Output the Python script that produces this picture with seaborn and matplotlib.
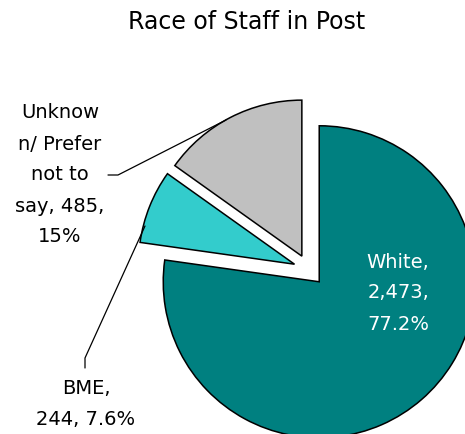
import matplotlib
matplotlib.use("Agg")
import matplotlib.pyplot as plt
import seaborn as sns

# data
categories = ["White", "BME", "Unknown/ Prefer not to say"]
counts = [2473, 244, 485]
percents = ["77.2%", "7.6%", "15%"]
colors = ["#008080", "#33CCCC", "#C0C0C0"]

sns.set_style("white")
plt.rcParams['font.family'] = ['DejaVu Sans']
plt.rcParams['text.color'] = 'black'

W, H = 465, 434
fig = plt.figure(figsize=(W / 100, H / 100), dpi=100)
ax = fig.add_axes([0, 0, 1, 1])
ax.axis("off")

# pie centre / radius in pixel units (y measured from bottom)
cx, cy, r = 309, H - 270, 156

# explode is in data units, so 10% of the radius
ax.pie(counts, colors=colors, startangle=90, counterclock=False,
       explode=[0.1 * r] * 3, radius=r, center=(cx, cy),
       wedgeprops=dict(edgecolor="black", linewidth=1.1))
ax.set_xlim(0, W)
ax.set_ylim(0, H)
ax.set_aspect("auto")

fig.text(0.53, 1 - 22 / H, "Race of Staff in Post", ha="center", va="center",
         fontsize=17)

# labels
ax.text(398, H - 293, f"{categories[0]},\n{counts[0]:,},\n{percents[0]}",
        ha="center", va="center", fontsize=14, color="white", linespacing=1.8)
ax.text(60, H - 175, f"Unknow\nn/ Prefer\nnot to\nsay, {counts[2]:,},\n{percents[2]}",
        ha="center", va="center", fontsize=14, linespacing=1.8)
ax.text(86, H - 404, f"{categories[1]},\n{counts[1]:,}, {percents[1]}",
        ha="center", va="center", fontsize=14, linespacing=1.8)

# leader lines
ax.plot([108, 118, 226], [H - 175, H - 175, H - 120], color="black", lw=0.9)
ax.plot([85, 85, 145], [H - 368, H - 358, H - 226], color="black", lw=0.9)

fig.savefig("out.png", dpi=100)
